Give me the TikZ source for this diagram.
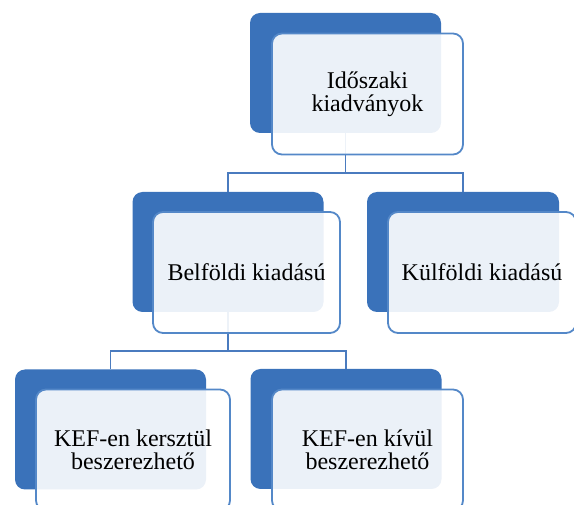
\documentclass[tikz,border=0pt]{standalone}
\usepackage{fontspec}
\setmainfont{Liberation Serif}
\usepackage{xcolor}
\usetikzlibrary{positioning}

\definecolor{backblue}{HTML}{3A72BA}
\definecolor{edgeblue}{HTML}{5488C8}
\definecolor{linkblue}{HTML}{4A7BBF}

\begin{document}
\begin{tikzpicture}[x=1pt,y=-1pt,
  backbox/.style={fill=backblue,rounded corners=10pt,inner sep=0pt,
    minimum width=191pt,minimum height=120pt},
  frontbox/.style={draw=edgeblue,line width=1.8pt,fill=white,fill opacity=0.9,
    text opacity=1,rounded corners=10pt,inner sep=0pt,align=center,
    minimum width=191pt,minimum height=121pt,
    font=\fontsize{24}{23.5}\selectfont},
  link/.style={draw=linkblue,line width=1.8pt}]
  \useasboundingbox (0,0) rectangle (574,505);
  \clip (0,0) rectangle (574,505);
  % back cards
  \node[backbox] (idb) at (345.5,73) {};
  \node[backbox] (belb) at (228,252) {};
  \node[backbox,minimum width=192pt] (kulb) at (463,252) {};
  \node[backbox] (kefb) at (110.5,429.5) {};
  \node[backbox] (kivb) at (346,429) {};
  % connectors
  \draw[link] (idb.south) -- ++(0,40) -| (belb.north);
  \draw[link] (idb.south) ++(0,40) -| (kulb.north);
  \draw[link] (belb.south) -- ++(0,39) -| (kefb.north);
  \draw[link] (belb.south) ++(0,39) -| (kivb.north);
  % front cards
  \node[frontbox] (id) at (367.5,94) {Időszaki\\kiadványok};
  \node[frontbox,minimum width=187pt] (bel) at (246.5,272.5) {Belföldi kiadású};
  \node[frontbox,minimum width=188pt] (kul) at (482,272.5) {Külföldi kiadású};
  \node[frontbox,minimum width=194pt] (kef) at (133,450) {KEF-en kersztül\\beszerezhető};
  \node[frontbox] (kiv) at (367.5,450) {KEF-en kívül\\beszerezhető};
\end{tikzpicture}
\end{document}
